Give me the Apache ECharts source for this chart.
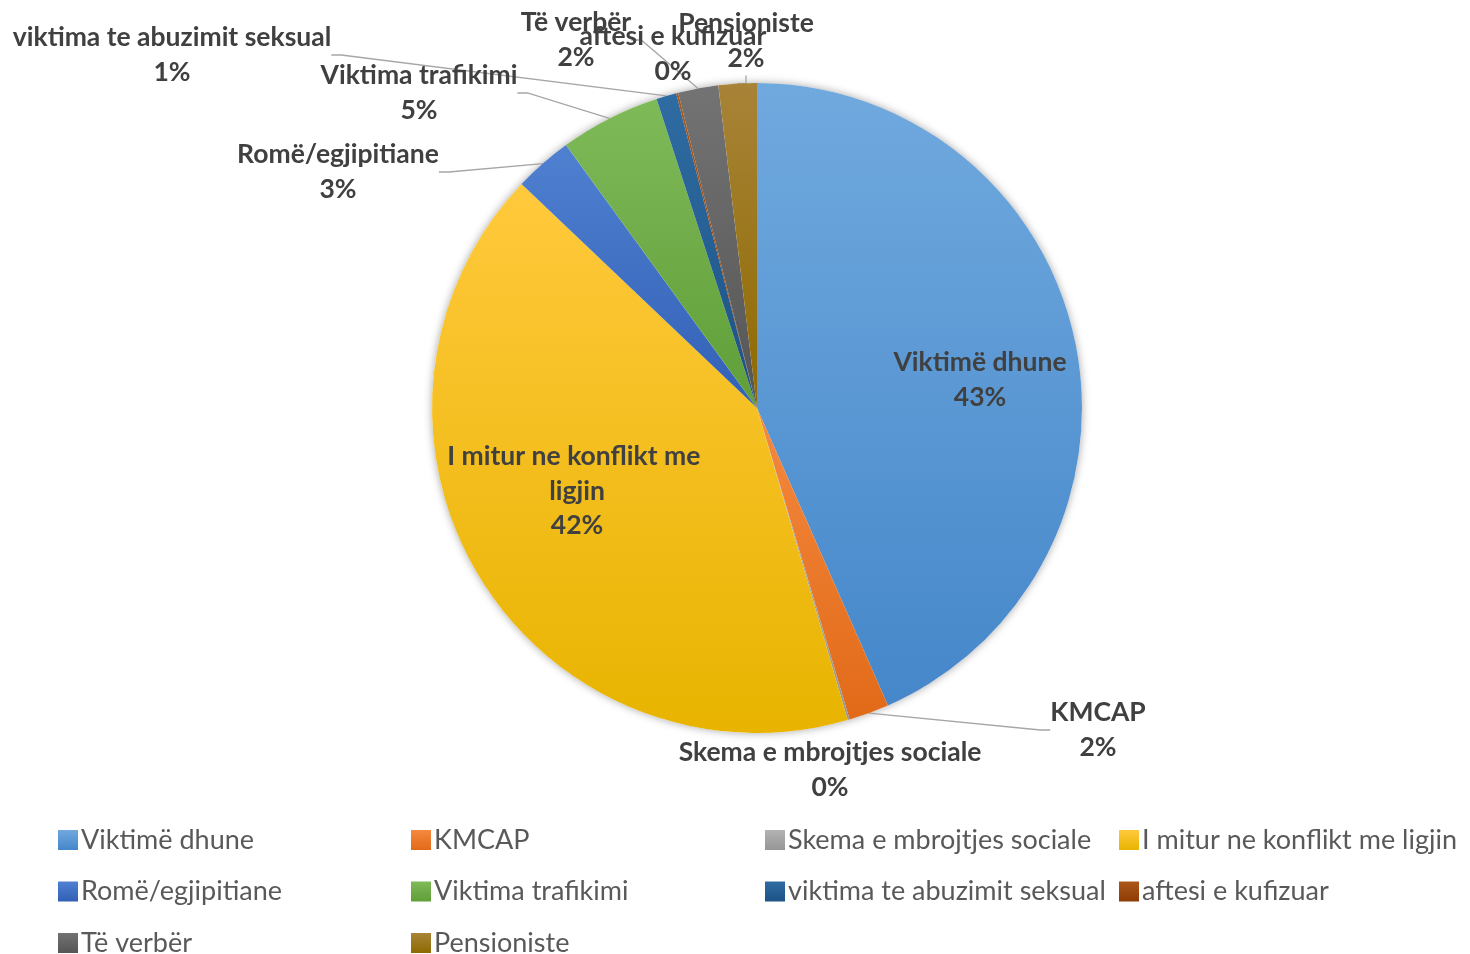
<!DOCTYPE html>
<html>
<head>
<meta charset="utf-8">
<script src="https://cdn.jsdelivr.net/npm/echarts@6/dist/echarts.min.js"></script>
<style>
  html, body { margin: 0; padding: 0; background: #fff; }
  #chart { width: 1470px; height: 954px; }
</style>
</head>
<body>
<div id="chart"></div>
<script>
// categories and shares (percent of total)
const categories = [
    'Viktimë dhune',
    'KMCAP',
    'Skema e mbrojtjes sociale',
    'I mitur ne konflikt me ligjin',
    'Romë/egjipitiane',
    'Viktima trafikimi',
    'viktima te abuzimit seksual',
    'aftesi e kufizuar',
    'Të verbër',
    'Pensioniste'
];
const values = [43.4, 2.0, 0.1, 41.6, 2.9, 5.0, 1.0, 0.1, 2.0, 1.9];

// gradient colours (top, bottom) per slice
const colorsTop = ['#70A9DE', '#F5893F', '#B3B3B3', '#FFC93C', '#5080D0', '#7FBA59', '#2F6CA2', '#AC5719', '#737373', '#A88338'];
const colorsBottom = ['#4587CA', '#E16A18', '#969696', '#E8B400', '#3160B6', '#5F9E38', '#1D5284', '#8E3C05', '#555555', '#8E6A00'];

// legend columns (Excel lays the legend out row by row, 4 per row)
const legendCols = [
    ['Viktimë dhune', 'Romë/egjipitiane', 'Të verbër'],
    ['KMCAP', 'Viktima trafikimi', 'Pensioniste'],
    ['Skema e mbrojtjes sociale', 'viktima te abuzimit seksual'],
    ['I mitur ne konflikt me ligjin', 'aftesi e kufizuar']
];
const legendLeft = [58, 411, 765, 1119];

// where Excel put each data label (centre of the text block)
const labelSpots = {
    'Viktimë dhune': [980, 380],
    'KMCAP': [1098, 730],
    'Skema e mbrojtjes sociale': [830, 770],
    'I mitur ne konflikt me ligjin': [577, 491],
    'Romë/egjipitiane': [338, 172],
    'Viktima trafikimi': [419, 93],
    'viktima te abuzimit seksual': [172, 55],
    'aftesi e kufizuar': [673, 54],
    'Të verbër': [576, 40],
    'Pensioniste': [746, 41]
};
const noLine = ['Viktimë dhune', 'I mitur ne konflikt me ligjin', 'Skema e mbrojtjes sociale', 'aftesi e kufizuar'];

const FONT = 'Lato, "Open Sans", sans-serif';
const CENTER = [757, 408];
const RADIUS = 325;

const chart = echarts.init(document.getElementById('chart'));

const pieData = categories.map((name, i) => {
    const item = {
        name: name,
        value: values[i],
        itemStyle: {
            color: new echarts.graphic.LinearGradient(0, 0, 0, 1, [
                { offset: 0, color: colorsTop[i] },
                { offset: 1, color: colorsBottom[i] }
            ])
        }
    };
    if (noLine.indexOf(name) >= 0) {
        item.labelLine = { show: false };
    }
    if (name === 'I mitur ne konflikt me ligjin') {
        item.label = { width: 290, overflow: 'break' };
    }
    return item;
});

const option = {
    backgroundColor: '#fff',
    animation: false,
    color: colorsBottom,
    legend: legendCols.map((col, k) => ({
        orient: 'vertical',
        left: legendLeft[k],
        top: 825,
        height: 200,
        padding: 0,
        data: col,
        icon: 'rect',
        itemWidth: 20,
        itemHeight: 20,
        itemGap: 21.5,
        itemStyle: { borderWidth: 0 },
        textStyle: {
            color: '#595959',
            fontSize: 27,
            lineHeight: 30,
            fontFamily: FONT,
            padding: [0, 0, 0, -2]
        }
    })),
    series: [
        {
            // soft shadow behind the pie
            type: 'pie',
            silent: true,
            center: CENTER,
            radius: RADIUS,
            z: 1,
            label: { show: false },
            labelLine: { show: false },
            itemStyle: {
                color: '#ffffff',
                shadowBlur: 9,
                shadowColor: 'rgba(0,0,0,0.35)'
            },
            data: [{ name: '', value: 1 }]
        },
        {
            name: 'Kategoritë',
            type: 'pie',
            center: CENTER,
            radius: RADIUS,
            startAngle: 90,
            clockwise: true,
            z: 2,
            avoidLabelOverlap: false,
            itemStyle: { borderWidth: 0 },
            label: {
                show: true,
                position: 'outside',
                formatter: p => p.name + '\n' + Math.round(p.percent) + '%',
                color: '#404040',
                fontWeight: 'bold',
                fontSize: 26.5,
                lineHeight: 34.5,
                fontFamily: FONT,
                align: 'center'
            },
            labelLine: {
                show: true,
                length: 10,
                length2: 10,
                lineStyle: { color: '#A6A6A6', width: 1.3 }
            },
            labelLayout: function (params) {
                const s = labelSpots[categories[params.dataIndex]];
                return { x: s[0], y: s[1], align: 'center', verticalAlign: 'middle' };
            },
            data: pieData
        }
    ]
};

chart.setOption(option);
</script>
</body>
</html>
